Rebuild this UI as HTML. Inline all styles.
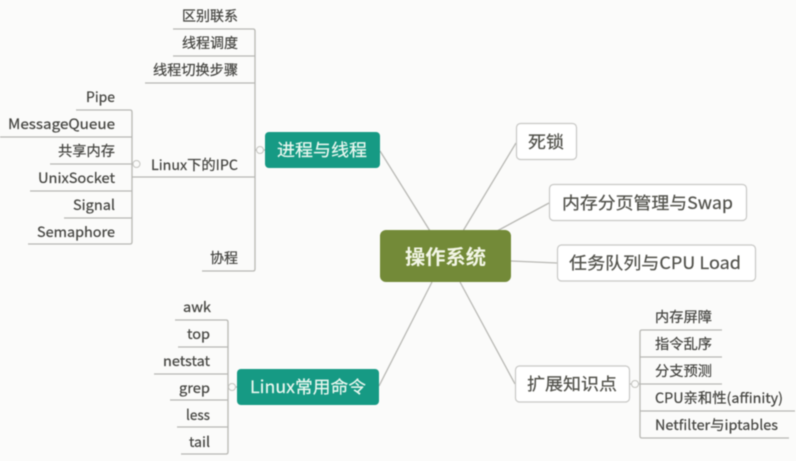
<!DOCTYPE html>
<html><head><meta charset="utf-8">
<style>
html,body{margin:0;padding:0;background:#fbfbfa;width:796px;height:461px;overflow:hidden}
svg{display:block;filter:blur(.5px)}
text{font-family:"Noto Sans CJK SC","Liberation Sans",sans-serif;font-size:14px;fill:#444440;stroke:#444440;stroke-width:.2px}
.n{font-size:17px;fill:#50504a;stroke:#50504a}
.w{font-size:17px;fill:#eaf8f0;stroke:#eaf8f0}
.l{fill:none;stroke:#b8b8b4;stroke-width:1.3}
.b{fill:#fff;stroke:#c8c8c6;stroke-width:1.2}
.c{fill:#fbfbfa;stroke:#c4c4c0;stroke-width:1}
</style></head><body>
<svg width="796" height="461" viewBox="0 0 796 461" xmlns="http://www.w3.org/2000/svg">
<rect width="796" height="461" fill="#fbfbfa"/>
<g class="l">
<path d="M380 151L430 231M379 386L432 282M460 282L515 384M516 143L463 231M549 203L497 231M511 261L557 263"/>
<path d="M173 29H253q2 0 2 2V269q0 2-2 2H202M173 56H255M145 83H255M132 177H255"/>
<path d="M76 110H130q2 0 2 2V242q0 2-2 2H28M0 137H132M50 164H132M30 191H132M64 218H132"/>
<path d="M175 320H226q2 0 2 2V452q0 2-2 2H181M178 347H228M154 374H228M170 400H228M177 427H228"/>
<path d="M722 330H642q-2 0-2 2V436q0 2 2 2H789M722 357H640M722 384H640M795 411H640"/>
<path d="M255 150H265M132 164H136M228 387H237M630 384H640"/>
</g>
<circle class="c" cx="260" cy="150" r="3.5"/>
<circle class="c" cx="136.500" cy="164" r="3.500"/>
<circle class="c" cx="232" cy="387" r="3.500"/>
<circle class="c" cx="635" cy="384" r="3.500"/>

<rect x="380" y="230" width="131" height="52" rx="6" fill="#738a38"/>
<rect x="265" y="132" width="115" height="36" rx="4" fill="#169a84"/>
<rect x="237" y="369" width="142" height="36" rx="4" fill="#169a84"/>
<rect class="b" x="516.500" y="123.500" width="60" height="36" rx="4"/>
<rect class="b" x="549.500" y="184.500" width="197" height="36" rx="4"/>
<rect class="b" x="557.500" y="245" width="198" height="36" rx="4"/>
<rect class="b" x="515.500" y="366" width="114" height="36" rx="4"/>

<text x="405" y="264" textLength="81" lengthAdjust="spacingAndGlyphs" style="font-size:20px;font-weight:700;fill:#f3f6e6;stroke:none">操作系统</text>
<text class="w" x="277" y="156" textLength="90" lengthAdjust="spacingAndGlyphs">进程与线程</text>
<text class="w" x="250" y="393" textLength="116" lengthAdjust="spacingAndGlyphs">Linux常用命令</text>
<text class="n" x="528" y="148" textLength="36" lengthAdjust="spacingAndGlyphs">死锁</text>
<text class="n" x="562" y="209" textLength="171" lengthAdjust="spacingAndGlyphs">内存分页管理与Swap</text>
<text class="n" x="569" y="269" textLength="172" lengthAdjust="spacingAndGlyphs">任务队列与CPU Load</text>
<text class="n" x="527" y="390" textLength="90" lengthAdjust="spacingAndGlyphs">扩展知识点</text>

<text x="182" y="21" textLength="56" lengthAdjust="spacingAndGlyphs">区别联系</text>
<text x="182" y="48" textLength="56" lengthAdjust="spacingAndGlyphs">线程调度</text>
<text x="153" y="75" textLength="85" lengthAdjust="spacingAndGlyphs">线程切换步骤</text>
<text x="151" y="170" textLength="87" lengthAdjust="spacingAndGlyphs">Linux下的IPC</text>
<text x="210" y="263" textLength="28" lengthAdjust="spacingAndGlyphs">协程</text>

<text x="86" y="102" textLength="29" lengthAdjust="spacingAndGlyphs">Pipe</text>
<text x="8" y="129" textLength="107" lengthAdjust="spacingAndGlyphs">MessageQueue</text>
<text x="58" y="156" textLength="57" lengthAdjust="spacingAndGlyphs">共享内存</text>
<text x="38" y="183" textLength="77" lengthAdjust="spacingAndGlyphs">UnixSocket</text>
<text x="73" y="210" textLength="42" lengthAdjust="spacingAndGlyphs">Signal</text>
<text x="37" y="237" textLength="78" lengthAdjust="spacingAndGlyphs">Semaphore</text>

<text x="183" y="312" textLength="28" lengthAdjust="spacingAndGlyphs">awk</text>
<text x="187" y="339" textLength="23" lengthAdjust="spacingAndGlyphs">top</text>
<text x="163" y="366" textLength="47" lengthAdjust="spacingAndGlyphs">netstat</text>
<text x="179" y="393" textLength="31" lengthAdjust="spacingAndGlyphs">grep</text>
<text x="186" y="420" textLength="24" lengthAdjust="spacingAndGlyphs">less</text>
<text x="189" y="447" textLength="21" lengthAdjust="spacingAndGlyphs">tail</text>

<text x="655" y="322" textLength="57" lengthAdjust="spacingAndGlyphs">内存屏障</text>
<text x="655" y="349" textLength="57" lengthAdjust="spacingAndGlyphs">指令乱序</text>
<text x="655" y="376" textLength="57" lengthAdjust="spacingAndGlyphs">分支预测</text>
<text x="655" y="403" textLength="128" lengthAdjust="spacingAndGlyphs">CPU亲和性(affinity)</text>
<text x="655" y="430" textLength="123" lengthAdjust="spacingAndGlyphs">Netfilter与iptables</text>
</svg>
</body></html>
